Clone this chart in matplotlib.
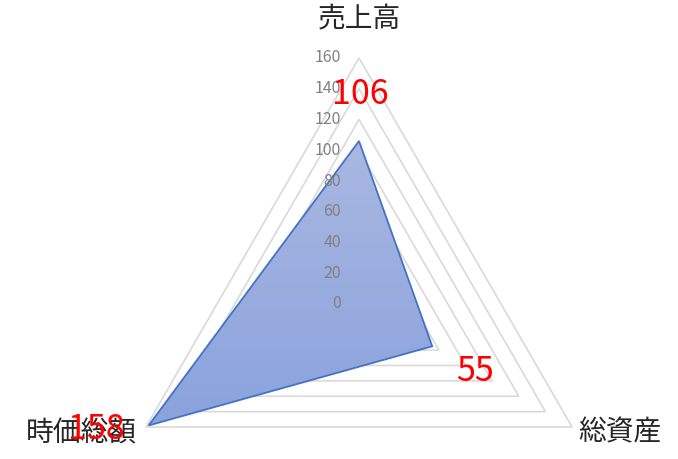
import numpy as np
import matplotlib.pyplot as plt
from matplotlib.patches import Polygon

# ---- data ----
categories = ["売上高", "総資産", "時価総額"]
values = [106, 55, 158]
ticks = [0, 20, 40, 60, 80, 100, 120, 140, 160]

plt.rcParams["font.family"] = ["Noto Sans CJK JP", "DejaVu Sans"]

# px per value unit (radius 160 -> 246 px)
scale = 246 / 160
cx_px, cy_px = 359, 304
W, H = 678, 459

fig = plt.figure(figsize=(W / 100, H / 100), dpi=100)
ax = fig.add_axes([0, 0, 1, 1])
ax.set_xlim(-cx_px / scale, (W - cx_px) / scale)
ax.set_ylim(-(H - cy_px) / scale, cy_px / scale)
ax.axis("off")

# clockwise from the top
angles = np.radians(np.arange(len(categories)) * 360 / len(categories))
dx, dy = np.sin(angles), np.cos(angles)


def ring(r):
    return np.column_stack([r * dx, r * dy])


# ---- triangular grid ----
for t in ticks[1:]:
    ax.add_patch(Polygon(ring(t), closed=True, fill=False,
                         edgecolor="#d9d9d9", lw=1.2, zorder=1))

# ---- data polygon with vertical gradient ----
vals = np.array(values, dtype=float)
pts = np.column_stack([vals * dx, vals * dy])
poly = Polygon(pts, closed=True, facecolor="none", edgecolor="#4472c4",
               lw=1.3, zorder=4, joinstyle="miter")
ax.add_patch(poly)

grad = np.linspace(0, 1, 256).reshape(-1, 1)
top = np.array([0.667, 0.722, 0.882])
bot = np.array([0.541, 0.635, 0.867])
img = top + (bot - top) * grad[:, :, None]
ymin, ymax = pts[:, 1].min(), pts[:, 1].max()
xmin, xmax = pts[:, 0].min(), pts[:, 0].max()
im = ax.imshow(img, extent=[xmin, xmax, ymin, ymax], aspect="auto",
               origin="upper", zorder=3)
clip = Polygon(pts, closed=True, transform=ax.transData)
im.set_clip_path(clip)

# ---- value axis labels ----
for t in ticks:
    ax.text(-18 / scale, t, str(t), ha="right", va="center",
            fontsize=11.5, color="#808080", zorder=5)

# ---- category labels ----
ax.text(0, 185, categories[0], ha="center", va="center", fontsize=20,
        color="#262626", zorder=5)
ax.text(165 * dx[1], 165 * dy[1] - 1, categories[1], ha="left", va="center",
        fontsize=20, color="#262626", zorder=5)
ax.text(167 * dx[2], 167 * dy[2] - 1, categories[2], ha="right", va="center",
        fontsize=20, color="#262626", zorder=5)

# ---- data labels ----
offsets = [(1, 47), (43, -25), (-52, -4)]
for (x, y), v, off in zip(pts, values, offsets):
    ax.annotate(str(v), (x, y), xytext=off, textcoords="offset pixels",
                ha="center", va="center", fontsize=24.5, color="#ff0000",
                zorder=6)

fig.savefig("out.png", dpi=100)
